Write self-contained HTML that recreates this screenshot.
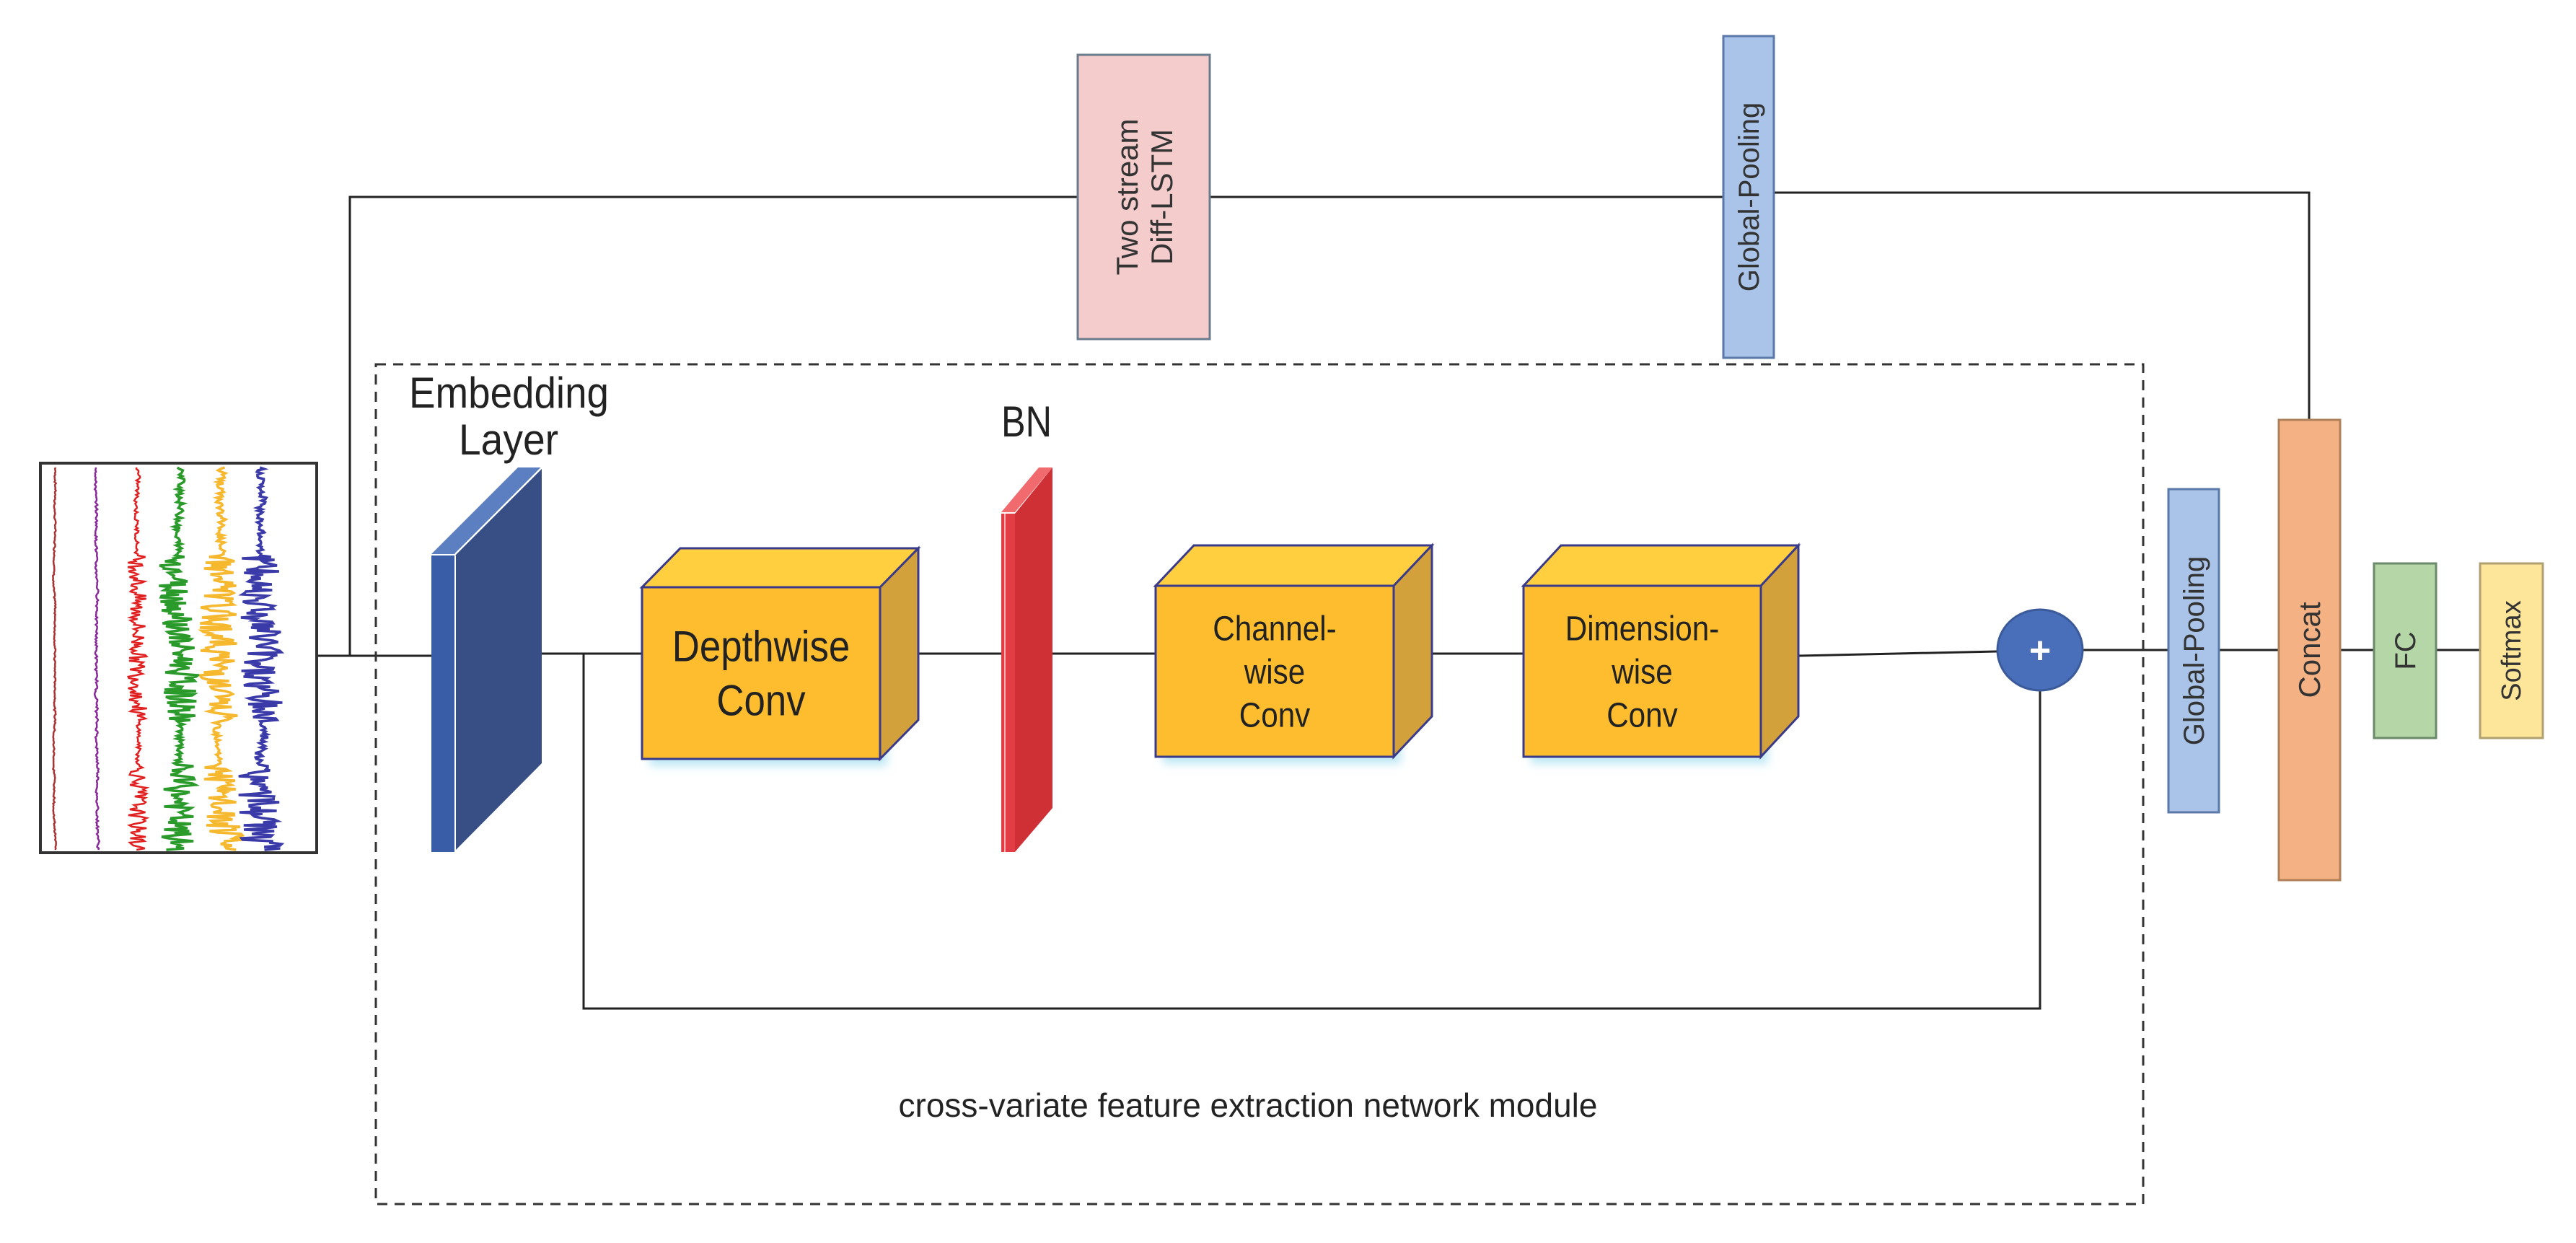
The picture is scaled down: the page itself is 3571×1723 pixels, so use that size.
<!DOCTYPE html>
<html><head><meta charset="utf-8"><style>
html,body{margin:0;padding:0;background:#fff;}
svg{display:block;}
.n{font-family:"Liberation Sans Narrow","Liberation Sans",sans-serif;fill:#222;}
.s{font-family:"Liberation Sans",sans-serif;fill:#333;}
</style></head><body>
<svg id="sv" width="3571" height="1723" viewBox="0 0 3571 1723" xmlns="http://www.w3.org/2000/svg">
<defs>
<filter id="gl" x="-10%" y="-10%" width="130%" height="130%"><feGaussianBlur stdDeviation="6"/></filter>
</defs>
<g stroke="#222" stroke-width="3" fill="none">
<polyline points="439,909 598,909"/>
<polyline points="485,909 485,273 1494,273"/>
<polyline points="1677,273 2389,273"/>
<polyline points="2459,267 3201,267 3201,582"/>
<polyline points="732,906 890,906"/>
<polyline points="809,906 809,1398 2828,1398 2828,957"/>
<polyline points="1220,906 1388,906"/>
<polyline points="1459,906 1602,906"/>
<polyline points="1932,906 2112,906"/>
<polyline points="2493,909 2768,903"/>
<polyline points="2887,901 3006,901"/>
<polyline points="3076,901 3159,901"/>
<polyline points="3244,901 3291,901"/>
<polyline points="3377,901 3438,901"/>
</g>
<rect x="521" y="505" width="2450" height="1164" fill="none" stroke="#333" stroke-width="3" stroke-dasharray="14,10"/>
<rect x="56" y="642" width="383" height="540" fill="#fff" stroke="#333" stroke-width="4"/>
<g id="sig" fill="none" stroke-width="2.5"></g>
<rect x="1494" y="76" width="183" height="394" fill="#f4cccc" stroke="#6b7b8c" stroke-width="3"/>
<text class="s" font-size="42" transform="translate(1585,273) rotate(-90)" text-anchor="middle"><tspan x="0" dy="-8">Two stream</tspan><tspan x="0" dy="48">Diff-LSTM</tspan></text>
<rect x="2389" y="50" width="70" height="446" fill="#a9c4e8" stroke="#5a78a8" stroke-width="3"/>
<text class="s" font-size="40" transform="translate(2438,273) rotate(-90)" text-anchor="middle">Global-Pooling</text>
<polygon points="631,770 751,650 751,1058 631,1179" fill="#374f85"/>
<polygon points="598,768 631,768 751,648 718,648" fill="#5b7fc0"/>
<line x1="631" y1="768" x2="751" y2="648" stroke="#fff" stroke-width="2"/>
<rect x="598" y="770" width="33" height="411" fill="#3a5da8"/>
<line x1="631" y1="770" x2="631" y2="1181" stroke="#fff" stroke-width="2"/>
<text class="n" font-size="60" x="567" y="565" textLength="277" lengthAdjust="spacingAndGlyphs">Embedding</text>
<text class="n" font-size="60" x="636" y="630" textLength="138" lengthAdjust="spacingAndGlyphs">Layer</text>
<polygon points="1407,712 1459,648 1459,1120 1407,1181" fill="#cf3036"/>
<polygon points="1388,710 1407,710 1459,648 1440,648" fill="#f06a6e"/>
<rect x="1388" y="712" width="19" height="469" fill="#e23c44"/>
<line x1="1393" y1="712" x2="1393" y2="1181" stroke="#ffb0b0" stroke-width="2"/>
<text class="n" font-size="60" x="1388" y="605" textLength="70" lengthAdjust="spacingAndGlyphs">BN</text>
<g id="cubes"></g>
<ellipse cx="2828" cy="901" rx="59" ry="56" fill="#4a6fba" stroke="#3b5a99" stroke-width="3"/>
<text class="s" font-size="52" x="2828" y="919" text-anchor="middle" style="fill:#fff;font-weight:bold">+</text>
<rect x="3006" y="678" width="70" height="448" fill="#a9c4e8" stroke="#5a78a8" stroke-width="3"/>
<text class="s" font-size="40" transform="translate(3055,902) rotate(-90)" text-anchor="middle">Global-Pooling</text>
<rect x="3159" y="582" width="85" height="638" fill="#f4b183" stroke="#b0805a" stroke-width="3"/>
<text class="s" font-size="42" transform="translate(3216,901) rotate(-90)" text-anchor="middle">Concat</text>
<rect x="3291" y="781" width="86" height="242" fill="#b5d7a8" stroke="#6a8a6a" stroke-width="3"/>
<text class="s" font-size="40" transform="translate(3348,902) rotate(-90)" text-anchor="middle">FC</text>
<rect x="3438" y="781" width="87" height="242" fill="#fde59a" stroke="#b0a070" stroke-width="3"/>
<text class="s" font-size="38" transform="translate(3494,902) rotate(-90)" text-anchor="middle">Softmax</text>
<text class="s" font-size="46" x="1730" y="1548" text-anchor="middle" style="fill:#222">cross-variate feature extraction network module</text>
</svg>
<script>
(function(){
var NS="http://www.w3.org/2000/svg";
var cubes=document.getElementById("cubes");
function cube(x1,y1,x2,y2,dx,dy,lines,fs,tw){
 var g="";
 g+='<rect x="'+(x1+10)+'" y="'+(y1+10)+'" width="'+(x2-x1)+'" height="'+(y2-y1)+'" fill="#bfe8f5" filter="url(#gl)"/>';
 g+='<polygon points="'+x1+','+y1+' '+(x1+dx)+','+(y1-dy)+' '+(x2+dx)+','+(y1-dy)+' '+x2+','+y1+'" fill="#ffcf40" stroke="#3a3a8a" stroke-width="3"/>';
 g+='<polygon points="'+x2+','+y1+' '+(x2+dx)+','+(y1-dy)+' '+(x2+dx)+','+(y2-dy)+' '+x2+','+y2+'" fill="#d2a13c" stroke="#3a3a8a" stroke-width="3"/>';
 g+='<rect x="'+x1+'" y="'+y1+'" width="'+(x2-x1)+'" height="'+(y2-y1)+'" fill="#fdbd2e" stroke="#3a3a8a" stroke-width="3"/>';
 var cx=(x1+x2)/2, cy=(y1+y2)/2, lh=fs*1.25, start=cy-(lines.length-1)*lh/2+fs*0.35;
 for(var i=0;i<lines.length;i++) g+='<text class="n" font-size="'+fs+'" x="'+cx+'" y="'+(start+i*lh)+'" text-anchor="middle" transform="translate('+cx+',0) scale(0.88,1) translate('+(-cx)+',0)">'+lines[i]+'</text>';
 cubes.innerHTML+=g;
}
cube(890,814,1220,1052,53,54,["Depthwise","Conv"],60);
cube(1602,812,1932,1049,53,56,["Channel-","wise","Conv"],48);
cube(2112,812,2441,1049,52,56,["Dimension-","wise","Conv"],48);
var sig=document.getElementById("sig");
var cols=["#a33","#8a2a9a","#e02020","#2a9a2a","#f5b82e","#3a3aa8"];
var xs=[77,134,191,249,306,364];
var amp=[3,5,9,16,18,20];
var seed=7;function r(){seed=(seed*9301+49297)%233280;return seed/233280-0.5;}
for(var k=0;k<6;k++){
 var pts=[],drift=0;
 for(var y=648;y<=1178;y+=2){
  drift+=r()*(k>2?3:1);drift*=0.97;
  var noisy=(k>=2)&&((y>770&&y<1000)||(y>1060));
  var a=noisy?amp[k]*1.4:amp[k]*0.3;
  pts.push((xs[k]+drift+r()*a*2).toFixed(1)+","+y);
 }
 var p=document.createElementNS(NS,"polyline");
 p.setAttribute("points",pts.join(" "));p.setAttribute("stroke",cols[k]);
 p.setAttribute("fill","none");p.setAttribute("stroke-width",k>=3?"3.5":"2.5");
 sig.appendChild(p);
}
})();
</script>
</body></html>
